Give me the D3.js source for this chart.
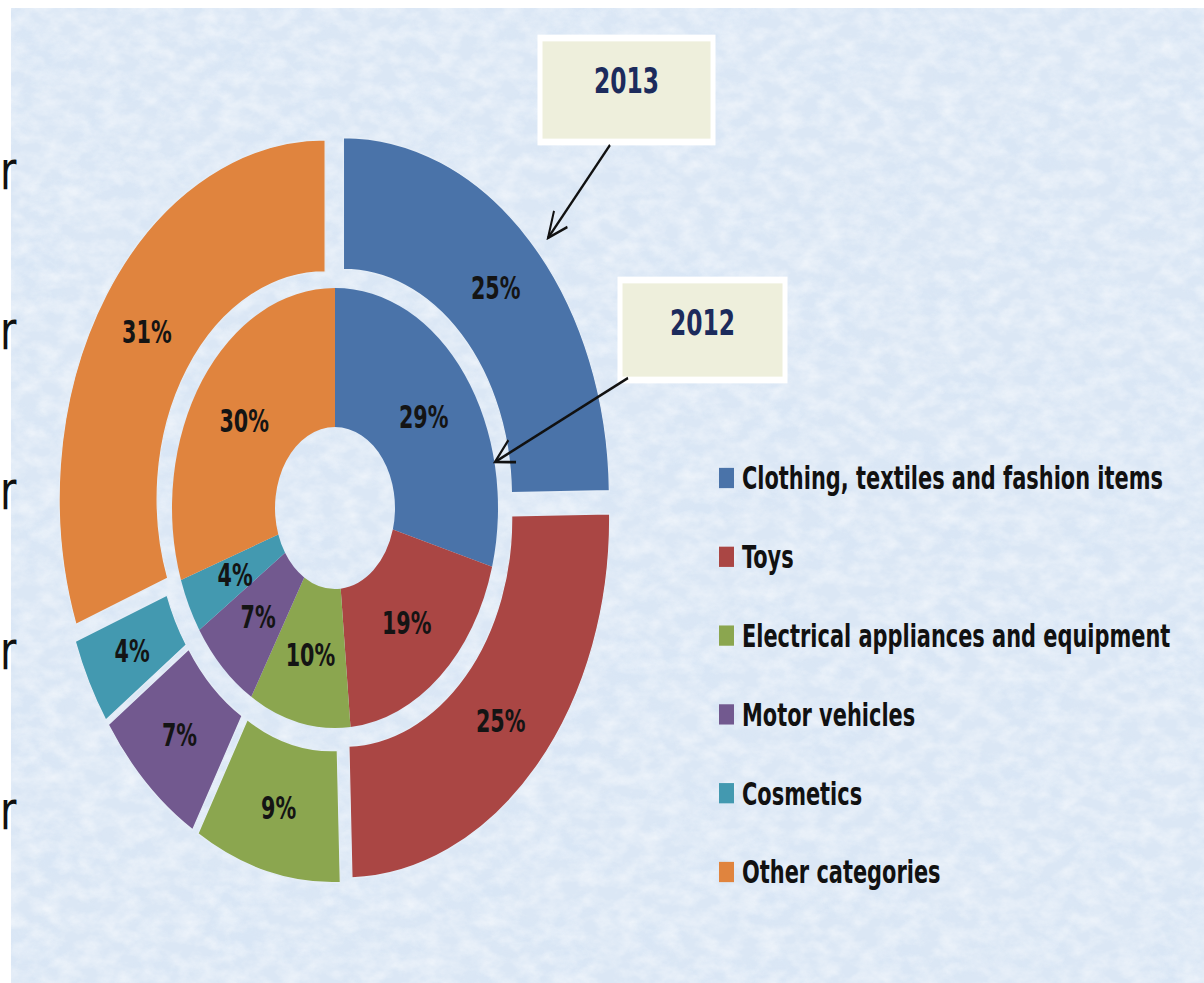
<!DOCTYPE html>
<html>
<head>
<meta charset="utf-8">
<script src="https://cdn.jsdelivr.net/npm/d3@7"></script>
<style>
  html, body { margin: 0; padding: 0; background: #ffffff; }
  svg { display: block; }
  .lbl { font-family: "Liberation Sans Narrow", "DejaVu Sans Condensed", "Open Sans", sans-serif; font-weight: bold; }
</style>
</head>
<body>
<svg id="chart" width="1204" height="983"></svg>
<script>
// ---- data ----
const categories = [
  "Clothing, textiles and fashion items",
  "Toys",
  "Electrical appliances and equipment",
  "Motor vehicles",
  "Cosmetics",
  "Other categories"
];
const values2012 = [29, 19, 10, 7, 4, 30];   // inner ring
const values2013 = [25, 25, 9, 7, 4, 31];    // outer ring
const colors = ["#4a73a9", "#aa4644", "#8ba64f", "#72598f", "#4399b0", "#e0843e"];
const yearLabels = ["2013", "2012"];
const edgeGlyphs = ["r", "r", "r", "r", "r"];

// ---- layout ----
const W = 1204, H = 983;
const SY = 1.35;               // vertical stretch of the original picture
const cx = 335, cy = 508 / SY;
const innerR0 = 60, innerR1 = 163;
const outerR0 = 168, outerR1 = 266;
const explode = 12;

const svg = d3.select("#chart");
const defs = svg.append("defs");

// texture filters for background
const f = defs.append("filter").attr("id", "tex").attr("x", 0).attr("y", 0).attr("width", "100%").attr("height", "100%");
f.append("feTurbulence").attr("type", "fractalNoise").attr("baseFrequency", "0.05 0.07").attr("numOctaves", 4).attr("seed", 7);
f.append("feColorMatrix").attr("type", "matrix")
  .attr("values", "0 0 0 0 1  0 0 0 0 1  0 0 0 0 1  1.5 0 0 0 -0.5");

const f2 = defs.append("filter").attr("id", "tex2").attr("x", 0).attr("y", 0).attr("width", "100%").attr("height", "100%");
f2.append("feTurbulence").attr("type", "fractalNoise").attr("baseFrequency", "0.015 0.025").attr("numOctaves", 2).attr("seed", 3);
f2.append("feColorMatrix").attr("type", "matrix")
  .attr("values", "0 0 0 0 0.62  0 0 0 0 0.76  0 0 0 0 0.93  1.3 0 0 0 -0.6");

// background
svg.append("rect").attr("x", 0).attr("y", 0).attr("width", W).attr("height", H).attr("fill", "#ffffff");
svg.append("rect").attr("x", 11).attr("y", 8).attr("width", W - 11).attr("height", H - 8).attr("fill", "#dbe7f5");
svg.append("rect").attr("x", 11).attr("y", 8).attr("width", W - 11).attr("height", H - 8).attr("filter", "url(#tex2)").attr("opacity", 0.35);
svg.append("rect").attr("x", 11).attr("y", 8).attr("width", W - 11).attr("height", H - 8).attr("filter", "url(#tex)").attr("opacity", 0.6);

// arrow marker (open chevron)
defs.append("marker").attr("id", "arrow").attr("viewBox", "0 0 24 24")
  .attr("refX", 22).attr("refY", 12).attr("markerWidth", 24).attr("markerHeight", 24)
  .attr("markerUnits", "userSpaceOnUse").attr("orient", "auto")
  .append("path").attr("d", "M3,3 L22,12 L3,21").attr("fill", "none").attr("stroke", "#111").attr("stroke-width", 2);

// stretched group
const g = svg.append("g").attr("transform", `scale(1,${SY})`);

// stray glyphs at the left edge (from the underlying slide)
g.selectAll("text.edge").data(edgeGlyphs).join("text")
  .attr("class", "edge")
  .attr("x", 0)
  .attr("y", (d, i) => (189 + i * 160) / SY)
  .attr("font-family", "DejaVu Sans, sans-serif")
  .attr("font-size", 40)
  .attr("fill", "#111")
  .text(d => d);

const pie = d3.pie().sort(null).value(d => d).startAngle(0).endAngle(2 * Math.PI);
const arcInner = d3.arc().innerRadius(innerR0).outerRadius(innerR1);
const arcOuter = d3.arc().innerRadius(outerR0).outerRadius(outerR1);

const chart = g.append("g").attr("transform", `translate(${cx},${cy})`);

// inner ring (2012)
const inner = chart.append("g");
const innerData = pie(values2012);
inner.selectAll("path").data(innerData).join("path")
  .attr("d", arcInner)
  .attr("fill", (d, i) => colors[i]);
inner.selectAll("text").data(innerData).join("text")
  .attr("class", "lbl")
  .attr("transform", d => `translate(${arcInner.centroid(d)})`)
  .attr("text-anchor", "middle").attr("dy", "0.35em")
  .attr("font-size", 23).attr("fill", "#141414")
  .text(d => d.data + "%");

// outer ring (2013), exploded
const outer = chart.append("g");
const outerData = pie(values2013);
const off = d => {
  const m = (d.startAngle + d.endAngle) / 2;
  return [Math.sin(m) * explode, -Math.cos(m) * explode];
};
const og = outer.selectAll("g").data(outerData).join("g")
  .attr("transform", d => `translate(${off(d)})`);
og.append("path")
  .attr("d", arcOuter)
  .attr("fill", (d, i) => colors[i])
  .attr("stroke", "#e4edf7").attr("stroke-width", 1.2);
og.append("text")
  .attr("class", "lbl")
  .attr("transform", d => `translate(${arcOuter.centroid(d)})`)
  .attr("text-anchor", "middle").attr("dy", "0.35em")
  .attr("font-size", 23).attr("fill", "#141414")
  .text(d => d.data + "%");

// legend
const legend = g.append("g");
const rowY = i => (478 + i * 78.8) / SY;
const lg = legend.selectAll("g").data(categories).join("g")
  .attr("transform", (d, i) => `translate(719,${rowY(i)})`);
lg.append("rect").attr("x", 0).attr("y", -7.5).attr("width", 15).attr("height", 15)
  .attr("fill", (d, i) => colors[i]);
const lt = lg.append("text").attr("class", "lbl")
  .attr("x", 23).attr("dy", "0.36em")
  .attr("font-size", 30).attr("fill", "#111")
  .text(d => d);
// fit longest legend entry to the width seen in the reference
const longest = lt.filter((d, i) => i === 0).node().getComputedTextLength();
const fs = 30 * 421 / longest;
lt.attr("font-size", fs);

// year callouts
const boxes = [
  { x: 540, y: 38, w: 173, h: 104, ty: 80, ax1: 610, ay1: 145, ax2: 548, ay2: 238 },
  { x: 620, y: 280, w: 165, h: 100, ty: 322, ax1: 628, ay1: 378, ax2: 495, ay2: 462 }
];
const cg = g.append("g");
boxes.forEach((b, i) => {
  cg.append("rect")
    .attr("x", b.x).attr("y", b.y / SY).attr("width", b.w).attr("height", b.h / SY)
    .attr("fill", "#eeefdc").attr("stroke", "#ffffff").attr("stroke-width", 5);
  cg.append("text").attr("class", "lbl")
    .attr("x", b.x + b.w / 2).attr("y", b.ty / SY)
    .attr("text-anchor", "middle").attr("dy", "0.36em")
    .attr("font-size", 26).attr("fill", "#1c2b5c")
    .text(yearLabels[i]);
  cg.append("line")
    .attr("x1", b.ax1).attr("y1", b.ay1 / SY).attr("x2", b.ax2).attr("y2", b.ay2 / SY)
    .attr("stroke", "#111").attr("stroke-width", 2)
    .attr("marker-end", "url(#arrow)");
});
</script>
</body>
</html>
